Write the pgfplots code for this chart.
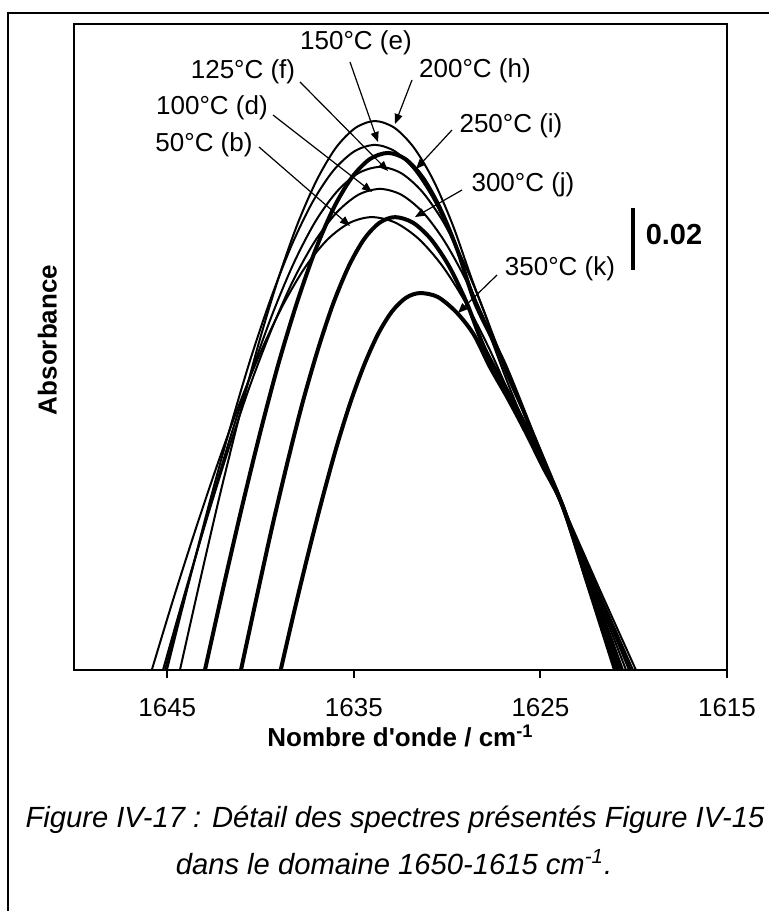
\documentclass[border=0pt]{standalone}
\usepackage{fontspec}
\setmainfont{Liberation Sans}[Ligatures=TeXOff]
\usepackage{pgfplots}
\pgfplotsset{compat=1.18}
\usetikzlibrary{arrows.meta}

\begin{document}
\begin{tikzpicture}[font=\fontsize{13}{15}\selectfont]
\useasboundingbox (0,0) rectangle (384.5pt,455.5pt);
\begin{axis}[
  at={(37pt,120.5pt)}, anchor=south west,
  scale only axis, width=326.5pt, height=323pt,
  xmin=1615, xmax=1650, x dir=reverse,
  ymin=0, ymax=0.2084,
  xtick={1645,1635,1625,1615},
  ytick=\empty,
  tick pos=left,
  tick align=outside,
  major tick length=4pt,
  every tick/.style={black, line width=1pt},
  axis line style={line width=1pt},
  xticklabel style={yshift=-6.5pt},
  /pgf/number format/assume math mode=true,
  /pgf/number format/1000 sep={},
  xlabel={\textbf{Nombre d'onde / cm\textsuperscript{-1}}},
  ylabel={\textbf{Absorbance}},
  xlabel style={at={(axis description cs:0.5,-0.102)}, anchor=center},
  ylabel style={at={(axis description cs:-0.041,0.511)}, anchor=center},
  lo/.style={black, line width=1pt, smooth, line join=round},
  hi/.style={black, line width=2pt, smooth, line join=round},
]
% 50 C (b)
\addplot[lo] coordinates {(1645.83,0) (1644.66,0.0232) (1643.47,0.0456) (1642.29,0.0667) (1641.11,0.0862) (1639.93,0.1035) (1638.75,0.1183) (1637.57,0.1303) (1636.39,0.1390) (1635.21,0.1443) (1634.03,0.1461) (1632.77,0.1443) (1631.51,0.1390) (1630.25,0.1303) (1628.99,0.1183) (1627.73,0.1035) (1626.52,0.0871) (1625.18,0.0694) (1623.79,0.0526) (1621.81,0.0258) (1619.88,0)};
% 100 C (d)
\addplot[lo] coordinates {(1645.23,0) (1644.07,0.0246) (1642.90,0.0484) (1641.74,0.0708) (1640.58,0.0915) (1639.41,0.1099) (1638.25,0.1257) (1637.09,0.1383) (1635.92,0.1476) (1634.76,0.1533) (1633.60,0.1552) (1632.45,0.1533) (1631.29,0.1476) (1630.14,0.1383) (1628.99,0.1257) (1627.84,0.1099) (1626.68,0.0915) (1625.18,0.0700) (1623.79,0.0526) (1621.91,0.0258) (1620.04,0)};
% 125 C (f)
\addplot[lo] coordinates {(1645.12,0) (1643.97,0.0257) (1642.82,0.0506) (1641.67,0.0741) (1640.51,0.0957) (1639.36,0.1149) (1638.21,0.1314) (1637.06,0.1447) (1635.90,0.1544) (1634.75,0.1603) (1633.60,0.1623) (1632.47,0.1603) (1631.35,0.1544) (1630.22,0.1447) (1629.10,0.1314) (1627.97,0.1149) (1626.84,0.0957) (1625.25,0.0742) (1623.79,0.0526) (1621.97,0.0258) (1620.15,0)};
% 150 C (e)
\addplot[lo] coordinates {(1645.02,0) (1643.90,0.0269) (1642.79,0.0528) (1641.67,0.0773) (1640.56,0.0999) (1639.44,0.1200) (1638.33,0.1371) (1637.21,0.1510) (1636.10,0.1611) (1634.98,0.1673) (1633.87,0.1694) (1632.79,0.1673) (1631.72,0.1611) (1630.65,0.1510) (1629.58,0.1371) (1628.51,0.1200) (1627.00,0.0999) (1625.45,0.0774) (1623.79,0.0526) (1622.02,0.0258) (1620.25,0)};
% 200 C (h)
\addplot[lo] coordinates {(1644.32,0) (1643.27,0.0281) (1642.23,0.0552) (1641.18,0.0808) (1640.14,0.1045) (1639.09,0.1255) (1638.05,0.1434) (1637.00,0.1579) (1635.96,0.1685) (1634.91,0.1749) (1633.87,0.1771) (1632.82,0.1749) (1631.78,0.1685) (1630.73,0.1579) (1629.69,0.1434) (1628.64,0.1255) (1627.31,0.1045) (1625.56,0.0784) (1623.79,0.0526) (1622.07,0.0258) (1620.41,0)};
% 250 C (i)
\addplot[hi] coordinates {(1642.98,0) (1642.00,0.0265) (1641.02,0.0520) (1640.04,0.0761) (1639.06,0.0984) (1638.07,0.1181) (1637.09,0.1350) (1636.11,0.1487) (1635.13,0.1587) (1634.15,0.1648) (1633.17,0.1668) (1632.23,0.1648) (1631.29,0.1587) (1630.36,0.1487) (1629.42,0.1350) (1628.48,0.1181) (1626.90,0.0984) (1625.40,0.0761) (1623.79,0.0526) (1622.18,0.0258) (1620.63,0)};
% 300 C (j)
\addplot[hi] coordinates {(1641.05,0) (1640.22,0.0232) (1639.40,0.0456) (1638.57,0.0667) (1637.75,0.0862) (1636.92,0.1035) (1636.10,0.1183) (1635.27,0.1303) (1634.45,0.1390) (1633.62,0.1443) (1632.79,0.1461) (1631.83,0.1443) (1630.87,0.1390) (1629.90,0.1303) (1628.94,0.1183) (1627.97,0.1035) (1626.36,0.0855) (1625.02,0.0694) (1623.79,0.0526) (1622.34,0.0258) (1620.84,0)};
% 350 C (k)
\addplot[hi] coordinates {(1638.92,0) (1638.18,0.0193) (1637.43,0.0379) (1636.68,0.0555) (1635.94,0.0717) (1635.19,0.0862) (1634.44,0.0985) (1633.70,0.1084) (1632.95,0.1157) (1632.20,0.1201) (1631.45,0.1216) (1630.49,0.1203) (1629.47,0.1152) (1628.56,0.1081) (1627.70,0.0977) (1626.79,0.0881) (1625.93,0.0784) (1624.86,0.0655) (1623.79,0.0526) (1622.40,0.0265) (1621.00,0)};
% scale bar
\draw[line width=2pt] (axis cs:1620.04,0.129) -- (axis cs:1620.04,0.149);
\end{axis}

% annotations, in pixel units of the page
\begin{scope}[x=0.5pt, y=-0.5pt, yshift=455.5pt]
  \draw[line width=1pt] (8,950) -- (8,13) -- (800,13);
  \begin{scope}[line width=0.6pt, -{Triangle[length=5pt,width=4pt]}]
    \draw (350,62) -- (378,142);
    \draw (300,82) -- (388,171);
    \draw (273,115) -- (372,192);
    \draw (259,147) -- (350,226);
    \draw (412,80) -- (395,124);
    \draw (452,130) -- (416,169);
    \draw (462,190) -- (415,217);
    \draw (497,275) -- (458,313);
  \end{scope}
  \node at (356,43) {150°C (e)};
  \node at (243,72) {125°C (f)};
  \node at (212,108) {100°C (d)};
  \node at (204,145) {50°C (b)};
  \node at (475,71) {200°C (h)};
  \node at (511,126) {250°C (i)};
  \node at (523,185) {300°C (j)};
  \node at (560,269) {350°C (k)};
  \node[font=\fontsize{14.5}{17}\selectfont\bfseries] at (674,235) {0.02};
  \node[font=\fontsize{14.6}{17}\selectfont\itshape] at (395,820) {Figure IV-17 : Détail des spectres présentés Figure IV-15};
  \node[font=\fontsize{14.6}{17}\selectfont\itshape] at (394,862) {dans le domaine 1650-1615 cm\textsuperscript{-1}.};
\end{scope}
\end{tikzpicture}
\end{document}
